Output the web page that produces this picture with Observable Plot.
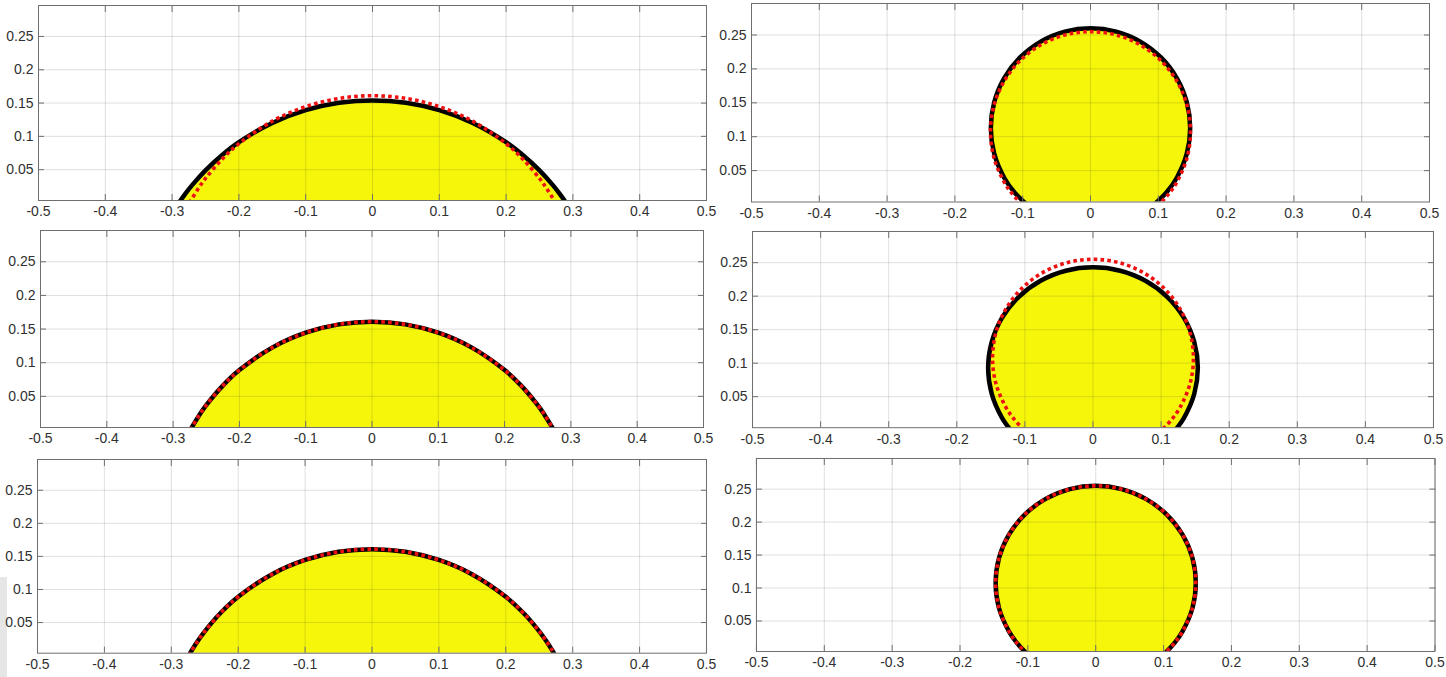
<!DOCTYPE html>
<html>
<head>
<meta charset="utf-8">
<script src="https://cdn.jsdelivr.net/npm/d3@7"></script>
<script src="https://cdn.jsdelivr.net/npm/@observablehq/plot@0.6"></script>
<style>
  html, body { margin: 0; padding: 0; background: #ffffff; }
  #fig { position: relative; width: 1446px; height: 677px; overflow: hidden; background: #ffffff; }
  .panel { position: absolute; }
  .panel svg { overflow: visible; }
  #edge { position: absolute; left: 0; top: 577px; width: 7px; height: 100px; background: #e6e6e6; }
</style>
</head>
<body>
<div id="fig"><div id="edge"></div></div>
<script>
// ---- tick values ----
const xTicks = [-0.5, -0.4, -0.3, -0.2, -0.1, 0, 0.1, 0.2, 0.3, 0.4, 0.5];
const yTicks = [0.05, 0.1, 0.15, 0.2, 0.25];
const yDomain = [0.0037, 0.2965];

// ---- right-half drop profiles (apex -> contact line) ----
// wide (flat) drop, reference shape (red, left column) and its good fit (black, rows 2-3)
const wideRefX = [0, 0.05, 0.1, 0.15, 0.2, 0.225, 0.25, 0.26, 0.27, 0.274];
const wideRefY = [0.161, 0.157, 0.1446, 0.1228, 0.089, 0.0659, 0.0368, 0.0228, 0.007, 0];
// wide drop, first fit (black, row 1)
const wideFitX = [0, 0.05, 0.1, 0.15, 0.2, 0.225, 0.25, 0.27, 0.28, 0.29];
const wideFitY = [0.154, 0.1504, 0.1394, 0.1202, 0.0913, 0.0721, 0.049, 0.0268, 0.0141, 0];
// tall drop, reference shape (red, right column; black in row 3)
const tallRefX = [0, 0.0382, 0.0738, 0.1043, 0.1277, 0.1425, 0.1475, 0.1425, 0.1277, 0.1162, 0.101];
const tallRefY = [0.255, 0.25, 0.2352, 0.2118, 0.1813, 0.1457, 0.1075, 0.0693, 0.0338, 0.0167, 0];
// tall drop, fit in row 1 (black)
const tallFitAX = [0, 0.038, 0.0735, 0.1039, 0.1273, 0.142, 0.147, 0.142, 0.1273, 0.1126, 0.094];
const tallFitAY = [0.26, 0.255, 0.2403, 0.2169, 0.1865, 0.151, 0.113, 0.075, 0.0395, 0.0185, 0];
// tall drop, fit in row 2 (black)
const tallFitBX = [0, 0.0399, 0.077, 0.1089, 0.1334, 0.1487, 0.154, 0.1487, 0.1334, 0.1208];
const tallFitBY = [0.243, 0.2379, 0.2229, 0.1991, 0.168, 0.1318, 0.093, 0.0542, 0.018, 0];

// ---- build full symmetric contours (left contact -> apex -> right contact) ----
function contour(xs, ys) {
  const half = xs.map((x, i) => ({x, y: ys[i]}));
  const left = half.slice(1).reverse().map(p => ({x: -p.x, y: p.y}));
  return left.concat(half);
}
const wideRef = contour(wideRefX, wideRefY);
const wideFit = contour(wideFitX, wideFitY);
const tallRef = contour(tallRefX, tallRefY);
const tallFitA = contour(tallFitAX, tallFitAY);
const tallFitB = contour(tallFitBX, tallFitBY);

// ---- panel layout: frame [left, top, right, bottom] in page pixels ----
const panels = [
  {frame: [38, 5, 706, 200], black: wideFit, red: wideRef},
  {frame: [751, 3, 1429, 201.5], black: tallFitA, red: tallRef},
  {frame: [40, 230, 703, 427], black: wideRef, red: wideRef},
  {frame: [752, 230.5, 1433, 426.7], black: tallFitB, red: tallRef},
  {frame: [37, 459, 706, 652.7], black: wideRef, red: wideRef},
  {frame: [755.5, 457.7, 1435, 651], black: tallRef, red: tallRef}
];

const YELLOW = "#f6f60b";
const RED = "#ee1111";
const AXIS = "#6f6f6f";
const ML = 45, MR = 12, MT = 6, MB = 26;
const fmt = d => String(d);

const fig = document.getElementById("fig");
for (const p of panels) {
  const [l, t, r, b] = p.frame;
  const W = (r - l) + ML + MR;
  const H = (b - t) + MT + MB;
  const chart = Plot.plot({
    width: W, height: H,
    marginLeft: ML, marginRight: MR, marginTop: MT, marginBottom: MB,
    style: {background: "transparent", fontSize: "14px", fontFamily: "'Liberation Sans', Arial, Helvetica, sans-serif", color: "#303030", overflow: "visible"},
    x: {domain: [-0.5, 0.5]},
    y: {domain: yDomain},
    marks: [
      Plot.line(p.black, {x: "x", y: "y", fill: YELLOW, stroke: "none", curve: "catmull-rom", clip: true}),
      Plot.gridX(xTicks, {stroke: "#262626", strokeOpacity: 0.15}),
      Plot.gridY(yTicks, {stroke: "#262626", strokeOpacity: 0.15}),
      Plot.line(p.black, {x: "x", y: "y", stroke: "#000000", strokeWidth: 4.5, curve: "catmull-rom", clip: true}),
      Plot.line(p.red, {x: "x", y: "y", stroke: RED, strokeWidth: 3.6, strokeDasharray: "3.6,3.2", strokeLinecap: "butt", curve: "catmull-rom", clip: true}),
      Plot.frame({stroke: AXIS}),
      Plot.axisX(xTicks, {anchor: "bottom", tickSize: 6, dy: -6, fill: "none", stroke: AXIS, label: null}),
      Plot.axisX(xTicks, {anchor: "top", tickSize: 6, dy: 6, fill: "none", stroke: AXIS, label: null}),
      Plot.axisY(yTicks, {anchor: "left", tickSize: 6, dx: 6, fill: "none", stroke: AXIS, label: null}),
      Plot.axisY(yTicks, {anchor: "right", tickSize: 6, dx: -6, fill: "none", stroke: AXIS, label: null}),
      Plot.axisX(xTicks, {anchor: "bottom", tickSize: 0, tickPadding: 6, tickFormat: fmt, label: null}),
      Plot.axisY(yTicks, {anchor: "left", tickSize: 0, tickPadding: 5, tickFormat: fmt, label: null})
    ]
  });
  const div = document.createElement("div");
  div.className = "panel";
  div.style.left = (l - ML) + "px";
  div.style.top = (t - MT) + "px";
  div.appendChild(chart);
  fig.appendChild(div);
}
</script>
</body>
</html>
